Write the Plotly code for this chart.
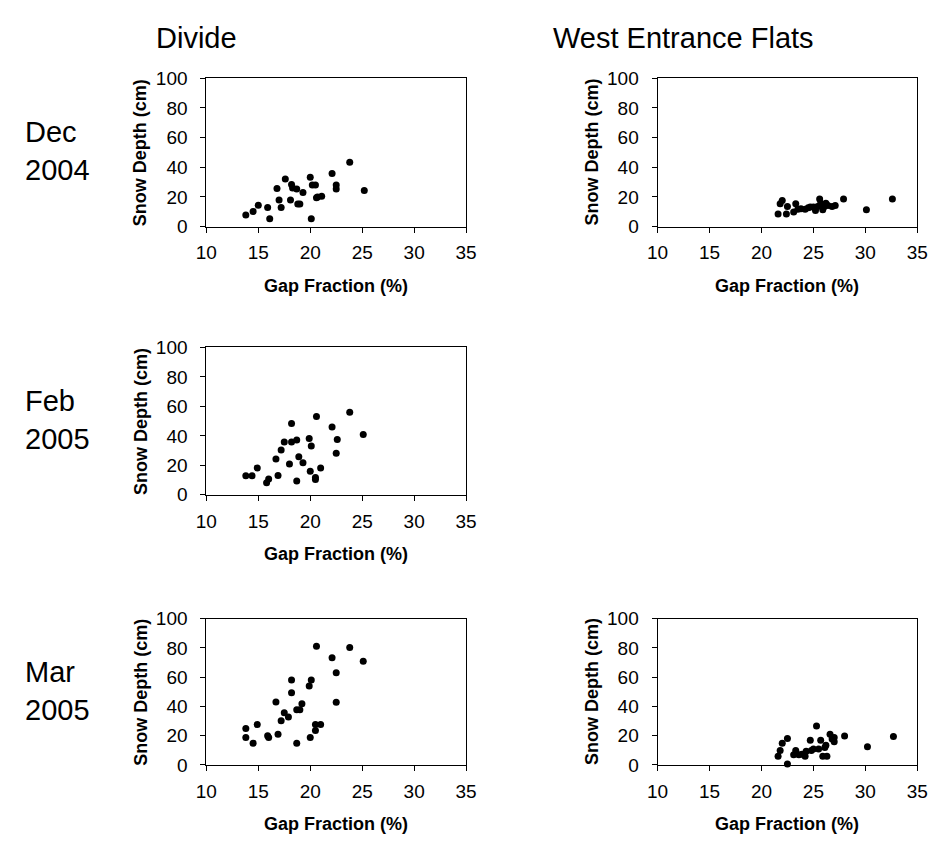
import plotly.graph_objects as go

W, H = 942, 853

# Snow depth (cm) vs canopy gap fraction (%)
divide_dec_gap = [13.8, 14.5, 15.0, 15.9, 16.1, 16.8, 17.0, 17.2, 17.6, 18.1, 18.2, 18.3, 18.7, 18.8,
                  19.0, 19.3, 20.0, 20.1, 20.2, 20.5, 20.6, 20.7, 21.1, 22.1, 22.5, 22.5, 23.8, 25.2]
divide_dec_depth = [7.7, 10.2, 14.3, 12.8, 5.3, 25.6, 17.9, 12.8, 32.0, 17.9, 28.3, 26.0, 25.4, 15.2,
                    15.2, 23.0, 33.3, 5.3, 28.0, 28.0, 19.4, 19.9, 20.5, 35.8, 28.0, 25.4, 43.3, 24.3]

divide_feb_gap = [13.8, 14.4, 14.9, 15.8, 16.0, 16.7, 16.9, 17.2, 17.5, 18.0, 18.2, 18.2, 18.7, 18.7,
                  18.9, 19.3, 19.9, 20.0, 20.1, 20.5, 20.5, 20.6, 21.0, 22.1, 22.5, 22.6, 23.8, 25.1]
divide_feb_depth = [12.9, 12.9, 18.2, 8.2, 10.7, 24.2, 13.1, 30.4, 35.8, 20.9, 48.4, 35.8, 37.1, 9.3,
                    25.8, 21.8, 38.2, 16.0, 33.1, 11.8, 10.4, 53.1, 18.2, 46.0, 28.2, 37.6, 56.0, 40.9]

divide_mar_gap = [13.8, 13.8, 14.5, 14.9, 15.9, 16.0, 16.7, 16.9, 17.2, 17.5, 17.9, 18.2, 18.2, 18.7,
                  18.7, 19.0, 19.2, 19.9, 20.0, 20.1, 20.5, 20.5, 20.6, 21.0, 22.1, 22.5, 22.5, 23.8, 25.1]
divide_mar_depth = [24.9, 18.7, 14.9, 27.6, 20.0, 18.7, 43.1, 20.9, 30.2, 35.6, 32.7, 49.3, 58.0, 37.8,
                    14.9, 37.8, 41.8, 54.0, 18.7, 58.0, 23.6, 27.6, 81.1, 27.6, 73.3, 42.9, 63.1, 80.2, 70.9]

wef_dec_gap = [21.6, 21.8, 22.0, 22.4, 22.5, 23.1, 23.3, 23.5, 23.8, 24.2, 24.5, 24.7, 25.0,
               25.2, 25.4, 25.6, 25.7, 25.9, 26.0, 26.2, 26.4, 26.8, 27.1, 27.9, 30.1, 32.6]
wef_dec_depth = [8.5, 15.3, 17.5, 8.5, 13.5, 9.8, 15.3, 11.6, 12.0, 11.6, 12.7, 13.1, 13.1,
                 10.9, 13.5, 18.6, 15.7, 11.4, 13.1, 15.7, 14.2, 13.5, 14.2, 18.6, 11.4, 18.6]

wef_mar_gap = [21.6, 21.8, 22.0, 22.5, 22.5, 23.1, 23.3, 23.6, 23.9, 24.2, 24.3, 24.7, 24.8, 25.0,
               25.3, 25.5, 25.7, 25.9, 26.1, 26.2, 26.3, 26.6, 26.8, 27.0, 27.0, 28.0, 30.2, 32.7]
wef_mar_depth = [6.0, 9.8, 14.9, 18.0, 0.7, 6.9, 9.8, 6.9, 7.3, 6.0, 9.4, 16.9, 9.8, 10.9,
                 26.7, 10.9, 16.9, 6.0, 12.0, 13.4, 6.0, 20.9, 17.8, 15.8, 18.7, 19.8, 12.5, 19.4]

x_ticks = [10, 15, 20, 25, 30, 35]
y_ticks = [0, 20, 40, 60, 80, 100]

site_titles = ["Divide", "West Entrance Flats"]
month_labels = ["Dec<br>2004", "Feb<br>2005", "Mar<br>2005"]

# panels: (gap, depth, left px, right px, top px, bottom px)
panels = [
    (divide_dec_gap, divide_dec_depth, 200, 466, 70, 222),
    (wef_dec_gap, wef_dec_depth, 662, 928, 70, 222),
    (divide_feb_gap, divide_feb_depth, 200, 466, 346, 497),
    (divide_mar_gap, divide_mar_depth, 200, 466, 624, 774),
    (wef_mar_gap, wef_mar_depth, 662, 928, 624, 774),
]

FONT = "Arial, 'Liberation Sans', Helvetica, sans-serif"
NARROW = "'Liberation Sans Narrow', 'Arial Narrow', Arial, 'Liberation Sans', sans-serif"

fig = go.Figure()
layout = dict(
    width=W, height=H,
    margin=dict(l=0, r=0, t=0, b=0),
    paper_bgcolor="white", plot_bgcolor="white",
    showlegend=False,
    font=dict(family=FONT, color="black"),
)
annotations = []

for i, (gx, gy, left, right, top, bottom) in enumerate(panels, start=1):
    xa = "x" if i == 1 else f"x{i}"
    ya = "y" if i == 1 else f"y{i}"
    fig.add_trace(go.Scatter(
        x=gx, y=gy, mode="markers", xaxis=xa, yaxis=ya,
        marker=dict(size=7, color="black"),
        cliponaxis=False,
    ))
    xkey = "xaxis" if i == 1 else f"xaxis{i}"
    ykey = "yaxis" if i == 1 else f"yaxis{i}"
    layout[xkey] = dict(
        domain=[left / W, right / W], anchor=ya,
        range=[10, 35], tickvals=x_ticks, ticktext=[str(v) for v in x_ticks],
        showgrid=False, zeroline=False,
        showline=True, linecolor="black", linewidth=1, mirror=True,
        ticks="outside", ticklen=5, tickcolor="black", tickwidth=1,
        tickfont=dict(size=19, family=FONT, color="black"),
        ticklabelstandoff=4,
    )
    layout[ykey] = dict(
        domain=[1 - bottom / H, 1 - top / H], anchor=xa,
        range=[0, 100], tickvals=y_ticks, ticktext=[str(v) for v in y_ticks],
        showgrid=False, zeroline=False,
        showline=True, linecolor="black", linewidth=1, mirror=True,
        ticks="outside", ticklen=5, tickcolor="black", tickwidth=1,
        tickfont=dict(size=19, family=FONT, color="black"),
        ticklabelstandoff=9,
    )
    # axis titles
    annotations.append(dict(
        text="<b>Gap Fraction (%)</b>", xref="paper", yref="paper",
        x=(left + right) / 2 / W, y=1 - (bottom + 61) / H,
        xanchor="center", yanchor="middle", showarrow=False,
        font=dict(size=18, family=FONT, color="black"),
    ))
    annotations.append(dict(
        text="<b>Snow Depth (cm)</b>", xref="paper", yref="paper",
        x=(left - 67) / W, y=1 - (top + bottom) / 2 / H,
        xanchor="center", yanchor="middle", showarrow=False, textangle=-90,
        font=dict(size=18, family=FONT, color="black"),
    ))

# column headings
for text, xpx in zip(site_titles, [146, 553]):
    annotations.append(dict(
        text=text, xref="paper", yref="paper", x=xpx / W, y=1 - 29 / H,
        xanchor="left", yanchor="middle", showarrow=False,
        font=dict(size=29, family=NARROW, color="black"),
    ))

# row headings
for text, ymid in zip(month_labels, [145, 420, 698]):
    annotations.append(dict(
        text=text, xref="paper", yref="paper", x=12 / W, y=1 - ymid / H,
        xanchor="left", yanchor="middle", align="left", showarrow=False,
        font=dict(size=29, family=FONT, color="black"),
    ))

layout["annotations"] = annotations
fig.update_layout(**layout)
fig.write_html("out.html")
